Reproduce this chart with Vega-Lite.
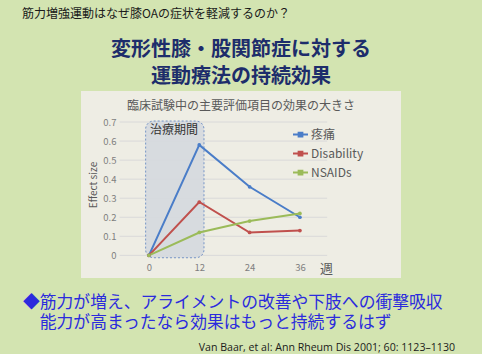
{
  "$schema": "https://vega.github.io/schema/vega-lite/v6.json",
  "background": "#D3E4B1",
  "padding": {"left": 0, "top": 8, "right": 0, "bottom": 0},
  "title": {"text": "筋力増強運動はなぜ膝OAの症状を軽減するのか？", "anchor": "start", "dx": 22, "fontSize": 12, "font": "Noto Sans CJK JP", "fontWeight": "normal", "color": "#1a1a1a", "offset": 19},
  "config": {"view": {"stroke": null}, "font": "Noto Sans CJK JP", "axis": {"labelOverlap": false}},
  "bounds": "flush",
  "center": true,
  "spacing": 0,
  "resolve": {"legend": {"color": "independent"}},
  "datasets": {
    "series": [
      {"series": "疼痛", "week": 0, "effect": 0},
      {"series": "疼痛", "week": 12, "effect": 0.58},
      {"series": "疼痛", "week": 24, "effect": 0.36},
      {"series": "疼痛", "week": 36, "effect": 0.2},
      {"series": "Disability", "week": 0, "effect": 0},
      {"series": "Disability", "week": 12, "effect": 0.28},
      {"series": "Disability", "week": 24, "effect": 0.12},
      {"series": "Disability", "week": 36, "effect": 0.13},
      {"series": "NSAIDs", "week": 0, "effect": 0},
      {"series": "NSAIDs", "week": 12, "effect": 0.12},
      {"series": "NSAIDs", "week": 24, "effect": 0.18},
      {"series": "NSAIDs", "week": 36, "effect": 0.22}
    ],
    "period": [{"label": "治療期間", "start": 0, "end": 12}],
    "grid": [{"v": 0}, {"v": 0.1}, {"v": 0.2}, {"v": 0.3}, {"v": 0.4}, {"v": 0.5}, {"v": 0.6}, {"v": 0.7}]
  },
  "vconcat": [
    {
      "width": 482, "height": 0,
      "data": {"values": []},
      "mark": "point",
      "title": {"text": ["変形性膝・股関節症に対する", "運動療法の持続効果"], "fontSize": 20, "fontWeight": "bold", "color": "#1D2D6B", "lineHeight": 27, "anchor": "middle", "offset": -16}
    },
    {
      "width": 320, "height": 187,
      "view": {"fill": "#EEEDE4", "stroke": null},
      "title": {"text": "臨床試験中の主要評価項目の効果の大きさ", "fontSize": 12, "fontWeight": "normal", "color": "#595959", "anchor": "middle", "offset": -22},
      "layer": [
        {
          "data": {"name": "grid"},
          "mark": {"type": "rule", "color": "#D9D9D9", "strokeWidth": 1},
          "encoding": {
            "y": {"field": "v", "type": "quantitative",
              "scale": {"domain": [-0.119, 0.863], "nice": false, "zero": false},
              "axis": {"values": [0, 0.1, 0.2, 0.3, 0.4, 0.5, 0.6, 0.7], "tickCount": 8, "format": ".1~f", "offset": -43, "domain": false, "ticks": false, "grid": false, "labelOverlap": false, "labelPadding": 8, "labelFontSize": 9.5, "labelColor": "#7F7F7F", "title": "Effect size", "titleFontSize": 10, "titleColor": "#595959", "titleFontWeight": "normal", "titlePadding": 4}},
            "x": {"datum": -7, "type": "quantitative"},
            "x2": {"datum": 42.5}
          }
        },
        {
          "data": {"name": "period"},
          "mark": {"type": "rect", "cornerRadius": 8, "fill": "#D6DADF", "opacity": 0.92, "stroke": "#6C8EC4", "strokeDash": [2, 2], "strokeWidth": 1, "xOffset": -3.3, "x2Offset": 4.7, "yOffset": -1, "y2Offset": 2.4},
          "encoding": {
            "x": {"field": "start", "type": "quantitative"},
            "x2": {"field": "end"},
            "y": {"datum": 0.7, "type": "quantitative"},
            "y2": {"datum": 0}
          }
        },
        {
          "data": {"name": "period"},
          "mark": {"type": "text", "fontSize": 12, "color": "#333333", "baseline": "middle", "align": "center"},
          "encoding": {
            "text": {"field": "label"},
            "x": {"datum": 6, "type": "quantitative"},
            "y": {"datum": 0.656, "type": "quantitative"}
          }
        },
        {
          "data": {"name": "series"},
          "mark": {"type": "line", "strokeWidth": 2, "point": {"filled": true, "size": 14}},
          "encoding": {
            "x": {"field": "week", "type": "quantitative",
              "scale": {"domain": [-16.2, 60.1], "nice": false, "zero": false},
              "axis": {"values": [0, 12, 24, 36], "offset": -23, "domain": false, "ticks": false, "grid": false, "labelOverlap": false, "labelPadding": 7, "labelFontSize": 9.5, "labelColor": "#7F7F7F", "title": "週", "titleFontSize": 13, "titleColor": "#595959", "titleFontWeight": "normal", "titleX": 245, "titleY": 13, "titleBaseline": "middle", "titleAlign": "center"}},
            "y": {"field": "effect", "type": "quantitative"},
            "color": {"field": "series", "type": "nominal",
              "scale": {"domain": ["疼痛", "Disability", "NSAIDs"], "range": ["#4A7DC8", "#C0504D", "#9BBB59"]},
              "legend": {"title": null, "orient": "none", "legendX": 211, "legendY": 35, "symbolType": "M-1,0H1M-0.25,-0.25H0.25V0.25H-0.25Z", "symbolSize": 225, "symbolStrokeWidth": 2, "labelFontSize": 12, "labelColor": "#595959", "labelOffset": 2, "rowPadding": 4, "padding": 0}}
          }
        }
      ]
    },
    {
      "width": 482, "height": 0,
      "data": {"values": []},
      "mark": "point",
      "title": {"text": ["◆筋力が増え、アライメントの改善や下肢への衝撃吸収", "\u200B\u3000能力が高まったなら効果はもっと持続するはず"], "orient": "bottom", "anchor": "start", "dx": 23, "fontSize": 16.8, "lineHeight": 20, "color": "#2B2BDD", "fontWeight": "normal", "offset": -3}
    },
    {
      "width": 482, "height": 0,
      "data": {"values": []},
      "mark": "point",
      "title": {"text": "Van Baar, et al: Ann Rheum Dis 2001; 60: 1123–1130", "orient": "bottom", "anchor": "end", "dx": -27, "fontSize": 10.6, "font": "Open Sans", "color": "#1a1a1a", "fontWeight": "normal", "offset": 25}
    }
  ]
}
